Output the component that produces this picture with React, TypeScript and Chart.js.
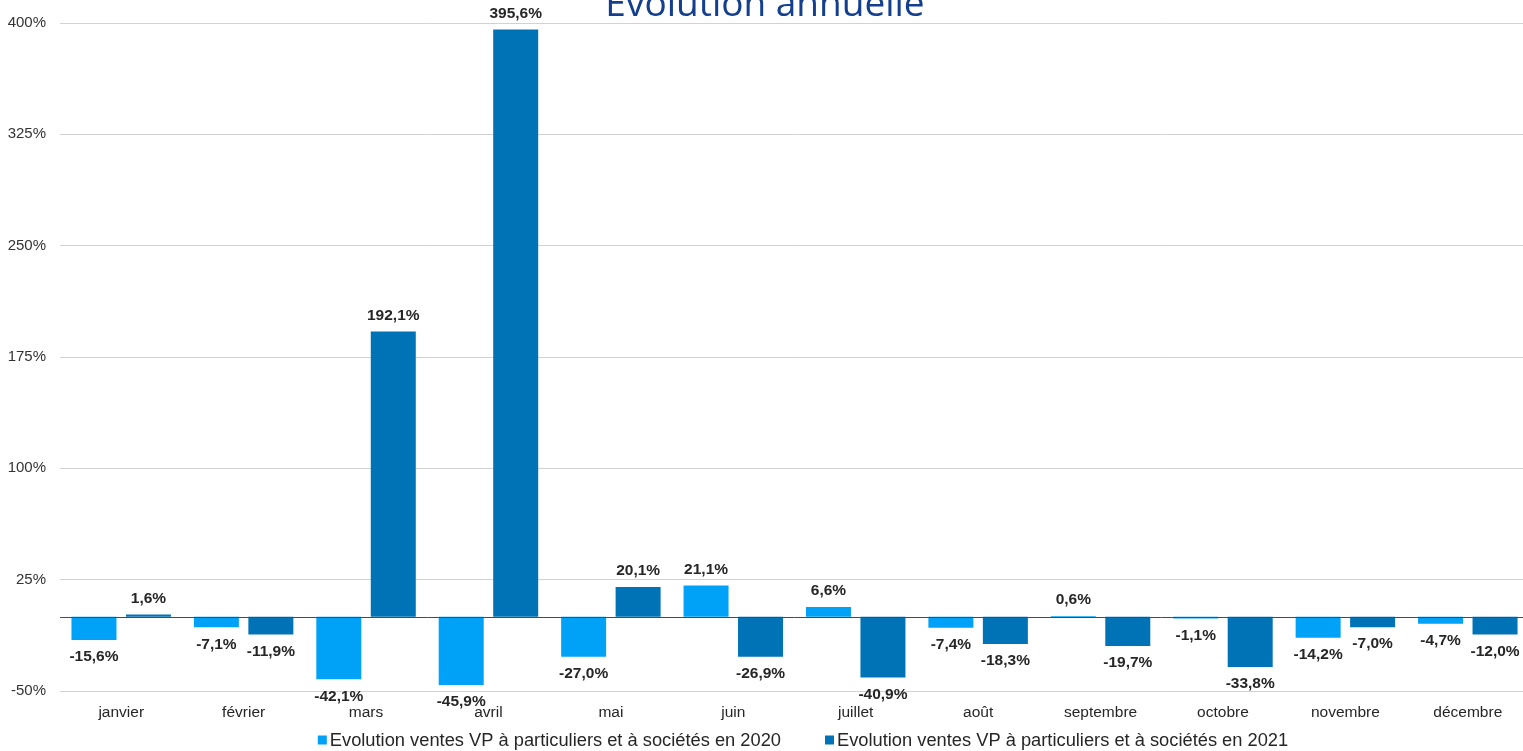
import React, { useEffect, useRef } from 'react';
import { Chart, registerables } from 'chart.js';

Chart.register(...registerables);

const months = ['janvier', 'février', 'mars', 'avril', 'mai', 'juin', 'juillet', 'août', 'septembre', 'octobre', 'novembre', 'décembre'];
const values2020 = [-15.6, -7.1, -42.1, -45.9, -27.0, 21.1, 6.6, -7.4, 0.6, -1.1, -14.2, -4.7];
const values2021 = [1.6, -11.9, 192.1, 395.6, 20.1, -26.9, -40.9, -18.3, -19.7, -33.8, -7.0, -12.0];
const seriesLabels = [
  'Evolution ventes VP à particuliers et à sociétés en 2020',
  'Evolution ventes VP à particuliers et à sociétés en 2021',
];
const seriesColors = ['#00A2F8', '#0072B6'];
const yMin = -50;
const yMax = 400;
const yStep = 75;
const titleText = 'Evolution annuelle';

const FONT = "'Liberation Sans', Arial, sans-serif";
const fmt = (v: number) => v.toFixed(1).replace('.', ',') + '%';

const zeroLinePlugin = {
  id: 'zeroLine',
  afterDatasetsDraw(chart: any) {
    const { ctx, chartArea, scales } = chart;
    const y = Math.round(scales.y.getPixelForValue(0)) + 0.5;
    ctx.save();
    ctx.strokeStyle = '#4a4a4a';
    ctx.lineWidth = 1;
    ctx.beginPath();
    ctx.moveTo(chartArea.left, y);
    ctx.lineTo(chartArea.right, y);
    ctx.stroke();
    ctx.restore();
  },
};

const dataLabelPlugin = {
  id: 'dataLabels',
  afterDatasetsDraw(chart: any) {
    const { ctx } = chart;
    ctx.save();
    ctx.font = `bold 15.5px ${FONT}`;
    ctx.fillStyle = '#262626';
    ctx.textAlign = 'center';
    ctx.textBaseline = 'middle';
    chart.data.datasets.forEach((ds: any, di: number) => {
      const meta = chart.getDatasetMeta(di);
      meta.data.forEach((el: any, i: number) => {
        const v = ds.data[i] as number;
        const y = v >= 0 ? el.y - 16 : el.y + 17;
        ctx.fillText(fmt(v), el.x, y);
      });
    });
    ctx.restore();
  },
};

const titlePlugin = {
  id: 'customTitle',
  afterDraw(chart: any) {
    const { ctx } = chart;
    ctx.save();
    ctx.font = "37px 'Open Sans', 'Noto Sans', sans-serif";
    ctx.fillStyle = '#133f8e';
    ctx.textAlign = 'center';
    ctx.textBaseline = 'alphabetic';
    ctx.fillText(titleText, 765, 16);
    ctx.restore();
  },
};

const legendPlugin = {
  id: 'customLegend',
  afterDraw(chart: any) {
    const { ctx } = chart;
    const box = 9;
    const gap = 3;
    const spacing = 44;
    const cy = 740;
    ctx.save();
    ctx.font = `18.3px ${FONT}`;
    const widths = chart.data.datasets.map((ds: any) => box + gap + ctx.measureText(ds.label).width);
    const total = widths.reduce((a: number, b: number) => a + b, 0) + spacing * (widths.length - 1);
    let x = 803 - total / 2;
    chart.data.datasets.forEach((ds: any, i: number) => {
      ctx.fillStyle = ds.backgroundColor;
      ctx.fillRect(x, cy - box / 2, box, box);
      ctx.fillStyle = '#262626';
      ctx.textAlign = 'left';
      ctx.textBaseline = 'middle';
      ctx.fillText(ds.label, x + box + gap, cy + 1);
      x += widths[i] + spacing;
    });
    ctx.restore();
  },
};

export default function App() {
  const canvasRef = useRef<HTMLCanvasElement | null>(null);

  useEffect(() => {
    document.body.style.margin = '0';
    const canvas = canvasRef.current;
    if (!canvas) return;
    const chart = new Chart(canvas, {
      type: 'bar',
      data: {
        labels: months,
        datasets: [
          { label: seriesLabels[0], data: values2020, backgroundColor: seriesColors[0], borderWidth: 0 },
          { label: seriesLabels[1], data: values2021, backgroundColor: seriesColors[1], borderWidth: 0 },
        ],
      },
      options: {
        responsive: false,
        animation: false,
        devicePixelRatio: 1,
        layout: { padding: { left: 0, right: 1, top: 22, bottom: 30 } },
        datasets: { bar: { categoryPercentage: 0.89, barPercentage: 0.826 } },
        plugins: {
          legend: { display: false },
          title: { display: false },
          tooltip: { enabled: false },
        },
        scales: {
          x: {
            grid: { display: false, drawTicks: false },
            border: { display: false },
            ticks: { color: '#262626', font: { family: FONT, size: 15.5 }, padding: 12, maxRotation: 0, autoSkip: false },
            afterFit: (s: any) => { s.height = 30; },
          },
          y: {
            min: yMin,
            max: yMax,
            grid: { color: '#d2d2d2', lineWidth: 1, drawTicks: false },
            border: { display: false },
            ticks: {
              stepSize: yStep,
              color: '#333333',
              font: { family: FONT, size: 15 },
              padding: 14,
              callback: (v: any) => `${v}%`,
            },
            afterFit: (s: any) => { s.width = 60; },
          },
        },
      },
      plugins: [zeroLinePlugin, dataLabelPlugin, titlePlugin, legendPlugin],
    });
    return () => chart.destroy();
  }, []);

  return (
    <div style={{ position: 'fixed', left: 0, top: 0, width: 1523, height: 751, overflow: 'hidden', background: '#fff' }}>
      <canvas ref={canvasRef} width={1530} height={751} style={{ width: 1530, height: 751, display: 'block' }} />
    </div>
  );
}
